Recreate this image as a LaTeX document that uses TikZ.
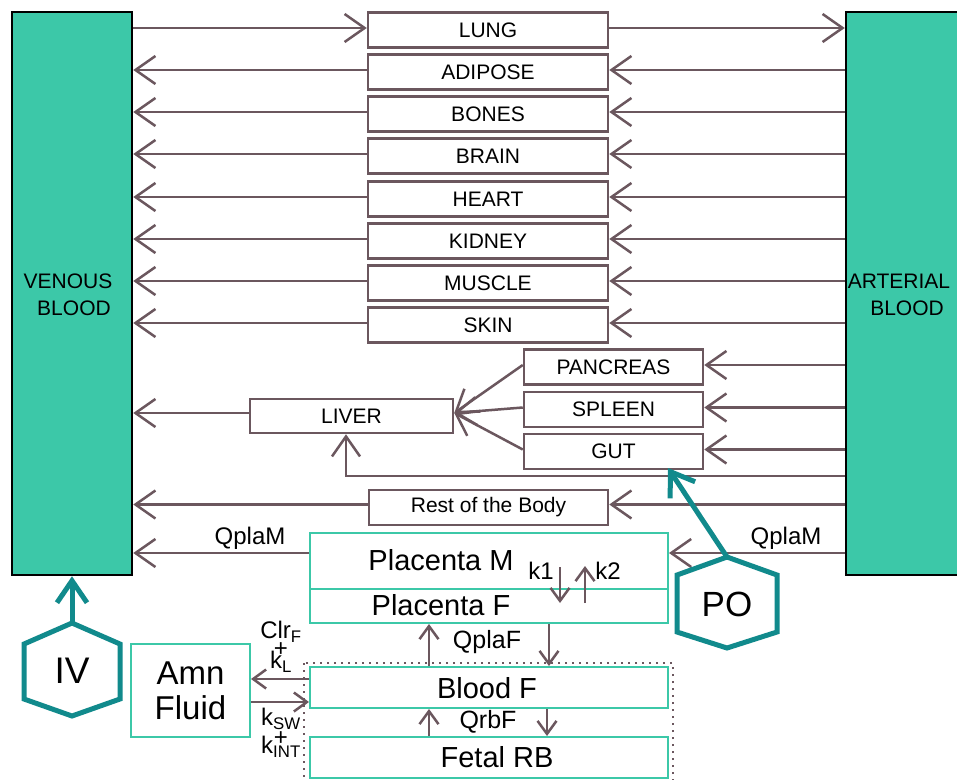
\documentclass[tikz,border=0pt]{standalone}
\usepackage{fontspec}
\setmainfont{Liberation Sans}
\usetikzlibrary{arrows.meta}
\definecolor{tealfill}{HTML}{3CC8A8}
\definecolor{darkteal}{HTML}{118A8C}
\definecolor{conn}{HTML}{6B575E}
\newcommand\mytightlines{\lineskiplimit=-100pt\relax}
\begin{document}
\begin{tikzpicture}[x=1pt,y=-1pt,
  bloodbox/.style={draw=black, fill=tealfill, line width=2.5pt, inner sep=0pt, minimum width=120pt, minimum height=563pt},
  organ/.style={draw=conn, line width=2.5pt, inner sep=0pt, minimum width=240pt, minimum height=35pt, font=\fontsize{21}{24}\selectfont},
  pbox/.style={draw=tealfill, line width=2pt, inner sep=0pt, minimum width=358pt},
  arr/.style={draw=conn, line width=2.5pt, -{Straight Barb[length=20pt,width=28pt]}},
  sarr/.style={draw=conn, line width=2.5pt, -{Straight Barb[length=13pt,width=19pt]}},
  tarr/.style={draw=darkteal, line width=5pt, -{Straight Barb[length=22pt,width=30pt]}},
  hexa/.style={draw=darkteal, line width=5pt, fill=white},
  lbl/.style={inner sep=0pt, font=\fontsize{24}{26}\selectfont},
  stack/.style={inner sep=0pt, align=center, font=\fontsize{24}{18}\selectfont\mytightlines},
  big/.style={inner sep=0pt, font=\fontsize{29}{32}\selectfont},
  bloodtxt/.style={inner sep=0pt, align=center, font=\fontsize{21}{27}\selectfont}
]
\clip (0,0) rectangle (957,779);
\fill[white] (0,0) rectangle (957,779);

% blood compartments
\node[bloodbox] (venous) at (72,293.5) {};
\node[bloodbox, minimum width=124pt] (arterial) at (908,293.5) {};
\node[bloodtxt] (ventext) at (68,294.5) {VENOUS\\\hspace*{12pt}BLOOD};
\node[bloodtxt] (arttext) at (899,294.5) {ARTERIAL\\\hspace*{16pt}BLOOD};

% organs
\foreach \n/\t/\y in {lung/LUNG/30, adipose/ADIPOSE/72, bones/BONES/114, brain/BRAIN/156, heart/HEART/199, kidney/KIDNEY/241, muscle/MUSCLE/283, skin/SKIN/325}
  \node[organ] (\n) at (488,\y) {\t};

\draw[arr] ([yshift=2pt]lung.west -| venous.east) -- ([yshift=2pt]lung.west);
\draw[arr] ([yshift=2pt]lung.east) -- ([yshift=2pt]lung.east -| arterial.west);
\foreach \n in {adipose,bones,brain,heart,kidney,muscle,skin}{
  \draw[arr] ([yshift=2pt]\n.east -| arterial.west) -- ([yshift=2pt]\n.east);
  \draw[arr] ([yshift=2pt]\n.west) -- ([yshift=2pt]\n.west -| venous.east);
}

% splanchnic
\node[organ, minimum width=179pt] (pancreas) at (613.5,367) {PANCREAS};
\node[organ, minimum width=179pt] (spleen) at (613.5,409.5) {SPLEEN};
\node[organ, minimum width=179pt] (gut) at (613.5,451.5) {GUT};
\node[organ, minimum width=203pt, minimum height=34pt] (liver) at (351.5,416) {LIVER};
\node[organ, minimum width=239pt] (rest) at (488.5,507.5) {Rest of the Body};

\foreach \n in {pancreas,spleen,gut}{
  \draw[arr] ([yshift=2pt]\n.east -| arterial.west) -- ([yshift=2pt]\n.east);
  \draw[arr] ([yshift=2pt]\n.west) -- ([yshift=3pt]liver.east);
}
\draw[arr] ([yshift=3pt]liver.west) -- ([yshift=3pt]liver.west -| venous.east);
\coordinate (gl) at (346,476);
\draw[arr] (gl -| arterial.west) -- (gl) -- (gl |- liver.south);
\draw[arr] ([yshift=3pt]rest.east -| arterial.west) -- ([yshift=3pt]rest.east);
\draw[arr] ([yshift=3pt]rest.west) -- ([yshift=3pt]rest.west -| venous.east);

% placenta
\node[pbox, minimum height=56pt] (pm) at (489,561) {};
\node[pbox, minimum height=34pt] (pf) at (489,606) {};
\node[big] (pmt) at (441,560) {Placenta M};
\node[big] (pft) at (441,605) {Placenta F};
\draw[arr] ([yshift=8pt]pm.west) -- ([yshift=8pt]pm.west -| venous.east);
\draw[arr] ([yshift=8pt]pm.east -| arterial.west) -- ([yshift=8pt]pm.east);
\node[lbl] (qml) at (250,538) {QplaM};
\node[lbl] (qmr) at (786,538) {QplaM};

\coordinate (k1a) at (560,567);
\coordinate (k1b) at (560,603);
\coordinate (k2a) at (585,603);
\coordinate (k2b) at (585,566);
\draw[sarr] (k1a) -- (k1b);
\draw[sarr] (k2a) -- (k2b);
\node[lbl] (k1) at (541,571) {k1};
\node[lbl] (k2) at (608,571) {k2};

% fetal
\draw[conn, line width=2pt, dash pattern=on 2pt off 5pt] (304,663) rectangle (673,800);
\node[pbox, minimum height=41pt, fill=white] (bf) at (489,687.5) {};
\node[pbox, minimum height=41pt, fill=white] (rb) at (489,757.5) {};
\node[big] (bft) at (487,688) {Blood F};
\node[big] (rbt) at (497,757) {Fetal RB};

\coordinate (cu) at (429,0);
\coordinate (cd) at (549,0);
\coordinate (cd2) at (547,0);
\draw[sarr] (bf.north -| cu) -- (pf.south -| cu);
\draw[sarr] (pf.south -| cd) -- (bf.north -| cd);
\draw[sarr] (rb.north -| cu) -- (bf.south -| cu);
\draw[sarr] (bf.south -| cd2) -- (rb.north -| cd2);
\node[lbl, font=\fontsize{25}{27}\selectfont] (qpf) at (487,642) {QplaF};
\node[lbl, font=\fontsize{25}{27}\selectfont] (qrb) at (488,722) {QrbF};

% amniotic fluid
\node[pbox, minimum width=119pt, minimum height=93pt, align=center, font=\fontsize{33}{35}\selectfont] (amn) at (190.5,690.5) {Amn\\Fluid};
\draw[sarr] ([yshift=8.5pt]bf.west) -- ([yshift=8.5pt]bf.west -| amn.east);
\draw[sarr] ([yshift=-14.5pt]bf.west -| amn.east) -- ([yshift=-14.5pt]bf.west);
\node[stack] (upstack) at (281,647) {Clr\textsubscript{F}\\+\\[-6pt]k\textsubscript{L}};
\node[stack] (lowstack) at (281,733) {k\textsubscript{SW}\\[2pt]+\\[-10pt]k\textsubscript{INT}};

% dosing
\draw[hexa] (72,623) -- (120,644) -- (120,699) -- (72,716) -- (24,699) -- (24,644) -- cycle;
\node[inner sep=0pt, font=\fontsize{37}{40}\selectfont] (iv) at (72,671) {IV};
\coordinate (ivtop) at (72,623);
\draw[tarr] (ivtop) -- (ivtop |- venous.south);

\draw[hexa] (727,557) -- (777,575) -- (777,632) -- (727,648) -- (677,632) -- (677,575) -- cycle;
\node[inner sep=0pt, font=\fontsize{35}{38}\selectfont] (po) at (727,604) {PO};
\coordinate (potop) at (727,557);
\coordinate (potip) at (668,468);
\draw[tarr] (potop) -- (potip);
\end{tikzpicture}
\end{document}
